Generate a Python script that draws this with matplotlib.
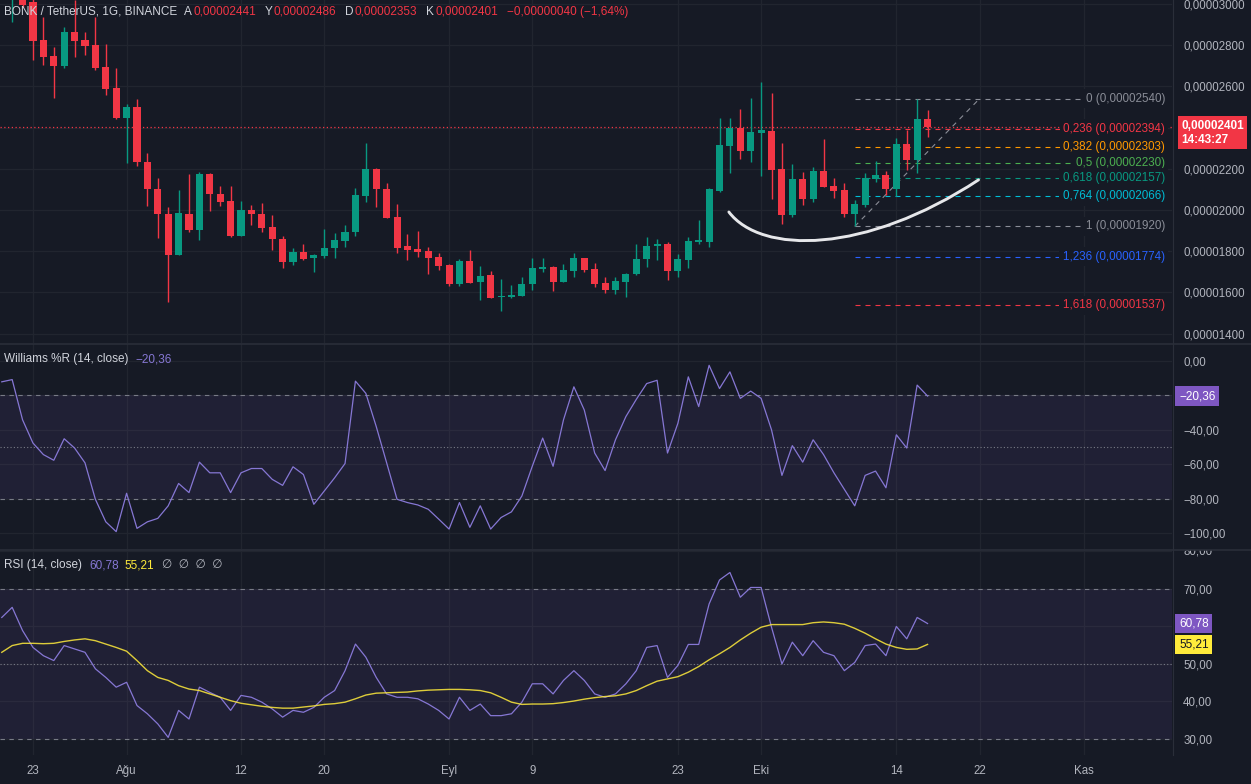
import matplotlib
matplotlib.use("Agg")
import numpy as np
import matplotlib.pyplot as plt
import matplotlib.transforms as mtransforms
from matplotlib.path import Path
from matplotlib.patches import PathPatch
from matplotlib.lines import Line2D

plt.rcParams['font.family'] = ['Liberation Sans', 'DejaVu Sans']

# ---------------------------------------------------------------- data
# prices stored in units of 1e-8 USDT (2401 -> 0,00002401)
candle_days = list(range(-2, 87))          # day index, 0 = 23 Jul
opens  = [3030, 3040, 3010, 2825, 2748, 2699, 2864, 2825, 2801, 2694,
          2592, 2447, 2500, 2233, 2102, 1981, 1782, 1981, 1903, 2175,
          2078, 2044, 1874, 2000, 1981, 1918, 1859, 1748, 1796, 1767,
          1777, 1816, 1850, 1893, 2068, 2199, 2102, 1966, 1825, 1811,
          1801, 1772, 1733, 1641, 1752, 1651, 1685, 1578, 1578, 1583,
          1641, 1714, 1723, 1651, 1704, 1767, 1714, 1646, 1612, 1651,
          1689, 1762, 1825, 1835, 1704, 1757, 1845, 1845, 2092, 2311,
          2398, 2286, 2374, 2384, 2199, 1976, 2151, 2053, 2189, 2117,
          2097, 1981, 2024, 2151, 2170, 2102, 2320, 2243, 2441]
highs  = [3100, 3060, 3025, 2937, 2791, 2888, 3019, 2864, 2937, 2806,
          2689, 2515, 2539, 2277, 2155, 2015, 2097, 2175, 2185, 2180,
          2117, 2117, 2044, 2024, 2034, 1976, 1874, 1816, 1835, 1787,
          1908, 1889, 1927, 2107, 2325, 2204, 2131, 2029, 1884, 1898,
          1820, 1791, 1738, 1762, 1806, 1728, 1704, 1665, 1636, 1675,
          1767, 1767, 1728, 1738, 1791, 1767, 1743, 1675, 1675, 1694,
          1835, 1869, 1859, 1845, 1787, 1869, 1951, 2107, 2447, 2447,
          2490, 2544, 2621, 2568, 2325, 2223, 2185, 2209, 2345, 2155,
          2131, 2049, 2180, 2238, 2189, 2349, 2388, 2540, 2486]
lows   = [2913, 2985, 2728, 2704, 2544, 2689, 2743, 2752, 2680, 2558,
          2442, 2228, 2214, 2020, 1864, 1553, 1782, 1893, 1854, 1995,
          2020, 1869, 1874, 1927, 1893, 1806, 1719, 1733, 1757, 1699,
          1767, 1767, 1820, 1874, 2039, 2015, 1961, 1791, 1757, 1772,
          1689, 1709, 1631, 1631, 1646, 1563, 1573, 1510, 1573, 1583,
          1612, 1699, 1607, 1651, 1675, 1699, 1626, 1597, 1592, 1578,
          1685, 1723, 1757, 1660, 1675, 1719, 1835, 1820, 2087, 2180,
          2248, 2233, 2165, 2053, 1932, 1966, 2024, 2039, 2112, 2058,
          1966, 1920, 2015, 2136, 2073, 2068, 2194, 2180, 2353]
closes = [3080, 2995, 2820, 2743, 2699, 2864, 2820, 2796, 2689, 2587,
          2447, 2500, 2233, 2102, 1981, 1782, 1986, 1903, 2175, 2078,
          2039, 1874, 2000, 1981, 1913, 1859, 1748, 1796, 1762, 1782,
          1816, 1854, 1893, 2073, 2199, 2102, 1961, 1816, 1806, 1796,
          1767, 1728, 1641, 1752, 1646, 1680, 1573, 1583, 1587, 1641,
          1719, 1723, 1651, 1709, 1767, 1709, 1641, 1612, 1655, 1689,
          1762, 1825, 1835, 1704, 1762, 1850, 1854, 2102, 2316, 2398,
          2286, 2379, 2388, 2194, 1976, 2151, 2053, 2189, 2112, 2092,
          1981, 2029, 2155, 2170, 2102, 2320, 2243, 2441, 2401]

ind_days = list(range(-3, 87))
williams_r = [-12.1, -10.8, -34.2, -47.7, -54.4, -57.7, -45.2, -50.6, -59.2, -80.4,
              -93.5, -99.2, -76.9, -97.3, -93.5, -91.5, -84.2, -71.2, -76.5, -58.8,
              -65.0, -65.0, -76.5, -65.0, -62.5, -62.5, -68.8, -72.3, -61.5, -66.0,
              -83.3, -75.6, -67.9, -59.6, -11.7, -18.8, -38.1, -59.2, -80.4, -82.3,
              -83.7, -86.2, -91.9, -97.7, -82.3, -96.7, -84.2, -97.7, -91.0, -87.7,
              -78.5, -61.2, -44.8, -61.2, -34.2, -15.0, -28.5, -53.5, -63.7, -45.8,
              -32.3, -22.3, -13.1, -11.2, -53.5, -36.2, -9.2, -26.5, -2.5, -16.0,
              -6.3, -21.7, -17.5, -21.7, -40.0, -66.5, -49.2, -58.8, -45.8, -54.4,
              -65.0, -74.6, -84.2, -66.5, -64.0, -73.7, -42.9, -50.6, -14.0, -20.36]
rsi = [62.4, 65.1, 58.9, 54.4, 52.2, 50.9, 54.9, 54.0, 53.1, 48.7,
       46.4, 43.8, 45.1, 38.9, 36.7, 34.0, 30.4, 37.6, 35.3, 43.8,
       42.4, 41.1, 37.6, 41.6, 41.1, 39.8, 38.0, 35.8, 37.6, 37.1,
       38.4, 41.1, 42.9, 48.2, 55.3, 51.8, 46.4, 42.0, 41.1, 41.1,
       40.7, 39.3, 37.6, 35.3, 41.1, 37.6, 39.3, 36.2, 36.2, 36.7,
       39.8, 44.7, 44.7, 42.0, 45.6, 48.2, 45.6, 42.0, 41.1, 42.0,
       44.7, 48.2, 54.4, 54.9, 46.4, 49.6, 55.2, 55.2, 66.0, 72.4,
       74.4, 67.8, 70.4, 70.4, 59.8, 50.0, 55.8, 52.2, 56.2, 53.1,
       52.2, 48.2, 50.4, 54.9, 55.3, 52.2, 60.0, 56.7, 62.4, 60.78]
rsi_ma = [53.1, 54.9, 55.5, 55.5, 55.4, 55.5, 56.0, 56.4, 56.7, 56.2,
          55.3, 54.4, 53.4, 50.9, 48.2, 46.4, 45.6, 44.2, 43.3, 42.9,
          42.0, 41.1, 40.2, 39.5, 39.1, 38.7, 38.4, 38.2, 38.2, 38.5,
          38.8, 39.2, 39.4, 39.8, 40.7, 41.7, 42.2, 42.3, 42.4, 42.5,
          42.8, 43.0, 43.1, 43.2, 43.2, 43.1, 42.9, 42.3, 41.1, 39.8,
          39.2, 39.3, 39.3, 39.4, 39.7, 40.1, 40.6, 41.0, 41.3, 41.5,
          42.0, 42.9, 44.2, 45.4, 46.0, 46.6, 47.8, 49.3, 51.1, 52.7,
          54.4, 56.4, 58.2, 59.8, 60.5, 60.5, 60.5, 60.5, 61.0, 61.2,
          61.0, 60.6, 59.5, 58.2, 56.7, 55.3, 54.4, 53.9, 54.0, 55.21]

xtick_days   = [0, 9, 20, 28, 40, 48, 62, 70, 83, 91, 101]
xtick_labels = ['23', 'Ağu', '12', '20', 'Eyl', '9', '23', 'Eki', '14', '22', 'Kas']

price_ticks = [1400, 1600, 1800, 2000, 2200, 2400, 2600, 2800, 3000]
wr_ticks    = [0, -20, -40, -60, -80, -100]
rsi_ticks   = [80, 70, 60, 50, 40, 30]

fib_high, fib_low = 2540, 1920
fib_start_day, fib_end_day = 79, 91
fib_ratios = [0, 0.236, 0.382, 0.5, 0.618, 0.764, 1, 1.236, 1.618]
fib_colors = ['#8a8d97', '#f23645', '#ff9800', '#4caf50', '#089981',
              '#00bcd4', '#8a8d97', '#2962ff', '#f23645']

cup_days   = [66.9, 70.0, 80.0, 90.9]     # bezier anchor/control points
cup_prices = [1990, 1784, 1784, 2146]

symbol_text = 'BONK / TetherUS, 1G, BINANCE'
countdown = '14:43:27'

# ---------------------------------------------------------------- style
BG = '#161a25'
GRID = '#21252f'
SEP = '#2a2e39'
TXT = '#b2b5be'
HEAD = '#d1d4dc'
GREEN = '#089981'
RED = '#f23645'
PURPLE = '#8677d4'
YELLOW = '#ffeb3b'
W, H = 1251, 784

fig = plt.figure(figsize=(W / 100, H / 100), dpi=100, facecolor=BG)


def rect(top, bottom):
    return [0, 1 - bottom / H, 1172 / W, (bottom - top) / H]


ax_p = fig.add_axes(rect(0, 343))
ax_w = fig.add_axes(rect(344, 549), sharex=ax_p)
ax_r = fig.add_axes(rect(550, 755), sharex=ax_p)

for ax in (ax_p, ax_w, ax_r):
    ax.set_facecolor(BG)
    for s in ax.spines.values():
        s.set_visible(False)
    ax.yaxis.tick_right()
    ax.tick_params(axis='y', length=0, pad=8, labelsize=8.3, labelcolor=TXT)
    ax.tick_params(axis='x', length=0, labelbottom=False, pad=7, labelsize=8.3,
                   labelcolor=TXT)
    ax.grid(True, color=GRID, lw=0.9)
    ax.set_axisbelow(True)

ax_p.set_xlim(-3.17, 109.5)
ax_p.set_xticks(xtick_days)
ax_r.tick_params(axis='x', labelbottom=True)
ax_r.set_xticklabels(xtick_labels)

# ---------------------------------------------------------------- price panel
o = np.array(opens, float)
c = np.array(closes, float)
hi = np.array(highs, float)
lo = np.array(lows, float)
cols = np.where(c >= o, GREEN, RED)
ax_p.vlines(candle_days, lo, hi, colors=cols, lw=1.0, zorder=3)
ax_p.bar(candle_days, np.maximum(np.abs(c - o), 5), bottom=np.minimum(o, c),
         width=0.68, color=cols, lw=0, zorder=4)
ax_p.set_ylim(1354, 3019)
last = closes[-1]
ax_p.set_yticks(price_ticks)
ax_p.set_yticklabels(['' if abs(t - last) < 60 else f'0,{t:08d}' for t in price_ticks])

ax_p.axhline(last, color=RED, lw=0.9, ls=(0, (1, 2)), zorder=2)

# fibonacci retracement
blend_p = mtransforms.blended_transform_factory(ax_p.transAxes, ax_p.transData)
rng = fib_high - fib_low
for r, col in zip(fib_ratios, fib_colors):
    lvl = fib_high - r * rng
    ax_p.plot([fib_start_day, 108.8], [lvl, lvl], color=col, lw=0.8,
              ls=(0, (4.5, 4.5)), zorder=2)
    lab = f'{r:g}'.replace('.', ',') + f' (0,{int(round(lvl)):08d})'
    ax_p.text(0.994, lvl, lab, transform=blend_p, ha='right', va='center',
              fontsize=8.4, color=col, zorder=5,
              bbox=dict(boxstyle='square,pad=0.3', fc=BG, ec='none'))
ax_p.plot([fib_start_day, fib_end_day], [fib_low, fib_high], color='#8a8d97',
          lw=0.8, ls=(0, (4.5, 4.5)), zorder=2)

# cup curve
cup_path = Path(list(zip(cup_days, cup_prices)),
                [Path.MOVETO, Path.CURVE4, Path.CURVE4, Path.CURVE4])
ax_p.add_patch(PathPatch(cup_path, fc='none', ec='#e6e7ea', lw=2.1, zorder=5,
                         capstyle='round'))

# current price label
ax_p.annotate(f'0,{last:08d}\n{countdown}', xy=(1.003, last), xycoords=blend_p,
              xytext=(4, -4), textcoords='offset points', ha='left', va='center',
              fontsize=8.5, color='white', fontweight='bold', annotation_clip=False,
              linespacing=1.2,
              bbox=dict(boxstyle='square,pad=0.3', fc=RED, ec='none'))

# ---------------------------------------------------------------- Williams %R
ax_w.axhspan(-80, -20, color='#7e57c2', alpha=0.10, lw=0)
for v, ls in ((-20, (0, (4, 4))), (-50, (0, (1, 2))), (-80, (0, (4, 4)))):
    ax_w.axhline(v, color='#787b86', lw=0.8, ls=ls)
ax_w.plot(ind_days, williams_r, color=PURPLE, lw=0.9, zorder=3)
ax_w.set_ylim(-109.3, 9.9)
ax_w.set_yticks(wr_ticks)
wr_last = williams_r[-1]
ax_w.set_yticklabels(['' if abs(t - wr_last) < 6 else f'{t:.2f}'.replace('.', ',').replace('-', '\u2212')
                      for t in wr_ticks])
blend_w = mtransforms.blended_transform_factory(ax_w.transAxes, ax_w.transData)
ax_w.text(1.006, wr_last, f'{wr_last:.2f}'.replace('.', ',').replace('-', '\u2212'),
          transform=blend_w, ha='left', va='center', fontsize=8.5, color='white',
          bbox=dict(boxstyle='square,pad=0.3', fc='#7e57c2', ec='none'))

# ---------------------------------------------------------------- RSI
ax_r.axhspan(30, 70, color='#7e57c2', alpha=0.10, lw=0)
for v, ls in ((70, (0, (4, 4))), (50, (0, (1, 2))), (30, (0, (4, 4)))):
    ax_r.axhline(v, color='#787b86', lw=0.8, ls=ls)
ax_r.plot(ind_days, rsi, color=PURPLE, lw=0.9, zorder=3)
ax_r.plot(ind_days, rsi_ma, color=YELLOW, lw=1.0, alpha=0.85, zorder=4)
ax_r.set_ylim(25.7, 80.4)
ax_r.set_yticks(rsi_ticks)
rsi_last, ma_last = rsi[-1], rsi_ma[-1]
ax_r.set_yticklabels(['' if (abs(t - rsi_last) < 4 or t == max(rsi_ticks)) else f'{t:.2f}'.replace('.', ',')
                      for t in rsi_ticks])
blend_r = mtransforms.blended_transform_factory(ax_r.transAxes, ax_r.transData)
ax_r.text(1.006, rsi_last, f'{rsi_last:.2f}'.replace('.', ','), transform=blend_r,
          ha='left', va='center', fontsize=8.5, color='white',
          bbox=dict(boxstyle='square,pad=0.3', fc='#7e57c2', ec='none'))
ax_r.text(1.006, ma_last, f'{ma_last:.2f}'.replace('.', ','), transform=blend_r,
          ha='left', va='center', fontsize=8.5, color='#131722',
          bbox=dict(boxstyle='square,pad=0.3', fc=YELLOW, ec='none'))
# top tick label, partially hidden under the panel above
t80 = ax_r.text(1.0, max(rsi_ticks), f'{max(rsi_ticks):.2f}'.replace('.', ','),
                transform=blend_r + mtransforms.ScaledTranslation(8 / 72, 0, fig.dpi_scale_trans),
                ha='left', va='center', fontsize=8.3, color=TXT, clip_on=True)
t80.set_clip_box(mtransforms.TransformedBbox(
    mtransforms.Bbox([[0, 0], [1, 1 - 550 / H]]), fig.transFigure))

# ---------------------------------------------------------------- separators
for ypx in (343.5, 549.5):
    fig.add_artist(Line2D([0, 1], [1 - ypx / H] * 2, transform=fig.transFigure,
                          color=SEP, lw=1.2))
fig.add_artist(Line2D([1172.5 / W] * 2, [1 - 755 / H, 1], transform=fig.transFigure,
                      color=SEP, lw=0.8))

# ---------------------------------------------------------------- headers
renderer = fig.canvas.get_renderer()


def chain(y_px, pieces, x0=4):
    x = x0
    for txt, col, gap in pieces:
        t = fig.text(x / W, 1 - y_px / H, txt, color=col, fontsize=8.5,
                     ha='left', va='center')
        bb = t.get_window_extent(renderer)
        x = bb.x1 + gap


def fmt_p(v):
    s = f'{abs(v):08d}'
    return ('\u2212' if v < 0 else '') + '0,' + s


chg = closes[-1] - closes[-2]
pct = chg / closes[-2] * 100
chain(12, [(symbol_text, HEAD, 7),
           ('A', HEAD, 1), (fmt_p(opens[-1]), RED, 9),
           ('Y', HEAD, 1), (fmt_p(highs[-1]), RED, 9),
           ('D', HEAD, 1), (fmt_p(lows[-1]), RED, 9),
           ('K', HEAD, 1), (fmt_p(closes[-1]), RED, 9),
           (f'{fmt_p(chg)} ({pct:.2f}%)'.replace('.', ',').replace('-', '\u2212'), RED, 0)])
chain(359, [('Williams %R (14, close)', HEAD, 7),
            (f'{wr_last:.2f}'.replace('.', ',').replace('-', '\u2212'), PURPLE, 0)])
chain(565, [('RSI (14, close)', HEAD, 7),
            (f'{rsi_last:.2f}'.replace('.', ','), PURPLE, 6),
            (f'{ma_last:.2f}'.replace('.', ','), YELLOW, 8),
            ('\u2205  \u2205  \u2205  \u2205', TXT, 0)])

fig.savefig('out.png', dpi=100, facecolor=BG)
